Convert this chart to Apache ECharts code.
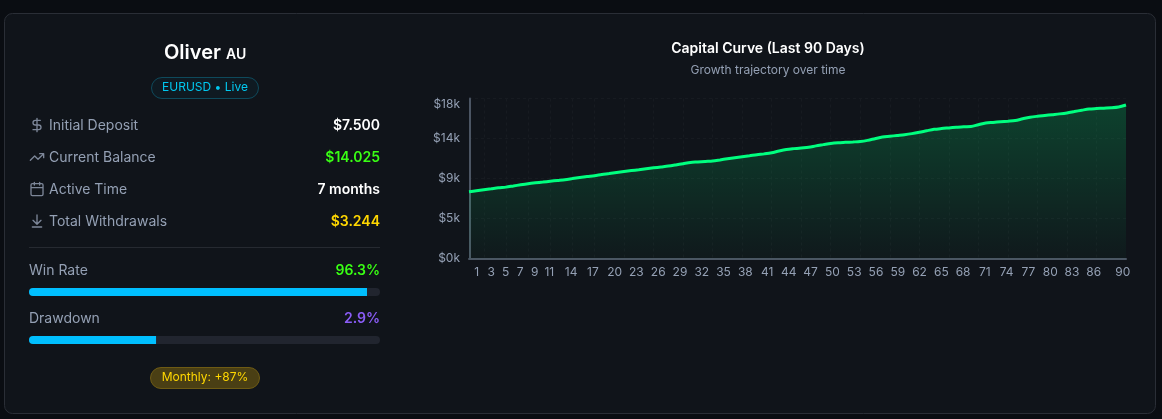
<!DOCTYPE html>
<html>
<head>
<meta charset="utf-8">
<title>Oliver</title>
<style>
  html, body { margin: 0; padding: 0; background: #0a0d12; }
  #main { width: 1162px; height: 419px; }
</style>
<script src="https://cdn.jsdelivr.net/npm/echarts@6/dist/echarts.min.js"></script>
</head>
<body>
<div id="main"></div>
<script>
// capital curve
const days = [];
for (let d = 1; d <= 90; d++) days.push(d);
const capital = [
  7500, 7620, 7740, 7850, 7960, 8030, 8160, 8290, 8410, 8510,
  8600, 8690, 8780, 8870, 8990, 9110, 9220, 9320, 9450, 9560,
  9680, 9790, 9890, 9990, 10100, 10200, 10300, 10400, 10530, 10670,
  10810, 10860, 10920, 10970, 11090, 11220, 11340, 11450, 11560, 11680,
  11770, 11890, 12090, 12260, 12360, 12440, 12510, 12670, 12810, 12950,
  13030, 13070, 13110, 13160, 13290, 13480, 13660, 13750, 13840, 13930,
  14050, 14200, 14370, 14530, 14620, 14690, 14760, 14820, 14840, 15050,
  15240, 15310, 15380, 15450, 15530, 15720, 15890, 16000, 16090, 16180,
  16270, 16380, 16530, 16680, 16820, 16870, 16910, 16950, 17040, 17269
];
const dayLabels = [1, 3, 5, 7, 9, 11, 14, 17, 20, 23, 26, 29, 32, 35, 38, 41, 44, 47, 50, 53, 56, 59, 62, 65, 68, 71, 74, 77, 80, 83, 86, 90];
const gridDays = [3, 6, 9, 12, 15, 18, 22, 26, 30, 34, 38, 42, 46, 50, 54, 58, 62, 66, 70, 74, 78, 82, 86];

const stats = [
  { label: 'Initial Deposit', value: '$7.500', color: '#ffffff', icon: 'M12 2v20M17 5H9.5a3.5 3.5 0 0 0 0 7h5a3.5 3.5 0 0 1 0 7H6' },
  { label: 'Current Balance', value: '$14.025', color: '#39ff14', icon: 'M22 7L13.5 15.5L8.5 10.5L2 17M16 7h6v6' },
  { label: 'Active Time', value: '7 months', color: '#ffffff', icon: 'M8 2v4M16 2v4M5 4h14a2 2 0 0 1 2 2v14a2 2 0 0 1-2 2H5a2 2 0 0 1-2-2V6a2 2 0 0 1 2-2zM3 10h18' },
  { label: 'Total Withdrawals', value: '$3.244', color: '#ffd700', icon: 'M12 17V3M6 11l6 6l6-6M19 21H5' }
];
const winRateBar = [96.3];
const drawdownBar = [36.2];

const FONT = 'Inter, "Noto Sans", sans-serif';
const MUTED = '#94a0b4';

function text(x, y, str, size, color, weight, align) {
  return {
    type: 'text', x: x, y: y, z: 100,
    style: { text: str, fontFamily: FONT, fontSize: size, fill: color, fontWeight: weight || 400, align: align || 'left', verticalAlign: 'middle' }
  };
}

const elements = [
  { type: 'rect', z: -10, shape: { x: 4.5, y: 13.5, width: 1151, height: 400, r: 8 }, style: { fill: '#10141a', stroke: '#2a2e36', lineWidth: 1 } },
  text(164, 53, 'Oliver', 20, '#ffffff', 600),
  text(226, 55, 'AU', 14, '#ffffff', 600),
  { type: 'rect', z: 100, shape: { x: 151.5, y: 77.5, width: 107, height: 21, r: 10.5 }, style: { fill: 'rgba(0,191,255,0.04)', stroke: '#0e4a5c', lineWidth: 1 } },
  text(205, 87.5, 'EURUSD • Live', 12, '#00c8f0', 400, 'center'),
  { type: 'line', z: 100, shape: { x1: 29, y1: 247.5, x2: 380, y2: 247.5 }, style: { stroke: '#262a31', lineWidth: 1 } },
  text(29, 271, 'Win Rate', 14, MUTED),
  text(380, 271, '96.3%', 14, '#39ff14', 600, 'right'),
  text(29, 319, 'Drawdown', 14, MUTED),
  text(380, 319, '2.9%', 14, '#8a5cf6', 600, 'right'),
  { type: 'rect', z: 100, shape: { x: 150.5, y: 367.5, width: 109, height: 21, r: 10.5 }, style: { fill: '#4a3f14', stroke: '#6e5b14', lineWidth: 1 } },
  text(205, 377.5, 'Monthly: +87%', 12, '#ffd700', 400, 'center'),
  text(768, 49, 'Capital Curve (Last 90 Days)', 14, '#ffffff', 600, 'center'),
  text(768, 70.5, 'Growth trajectory over time', 12, MUTED, 400, 'center')
];

stats.forEach(function (row, i) {
  const y = 125 + i * 32;
  // svg icons have to be registered as shapes to be used in graphic
  const shapeName = 'statIcon' + i;
  echarts.graphic.registerShape(shapeName, echarts.graphic.extendPath(row.icon));
  elements.push({
    type: shapeName, z: 100, x: 29, y: y - 8, scaleX: 0.667, scaleY: 0.667,
    shape: {},
    style: { fill: 'none', stroke: '#7d8799', lineWidth: 2, lineCap: 'round', lineJoin: 'round' }
  });
  elements.push(text(49, y + 1, row.label, 14, MUTED));
  elements.push(text(380, y + 1, row.value, 14, row.color, 600, 'right'));
});

function barGrid(top) {
  return { left: 29, width: 351, top: top, height: 8 };
}

function barSeries(index, values) {
  return {
    type: 'bar', xAxisIndex: index + 2, yAxisIndex: index + 1, data: values, barWidth: 8, silent: true,
    itemStyle: { color: '#00bfff', borderRadius: [4, 0, 0, 4] },
    showBackground: true,
    backgroundStyle: { color: '#21252f', borderRadius: 4 }
  };
}

function hiddenValueAxis(gridIndex) {
  return { type: 'value', gridIndex: gridIndex, min: 0, max: 100, show: false };
}

function hiddenCategoryAxis(gridIndex) {
  return { type: 'category', gridIndex: gridIndex, data: [''], show: false };
}

const myChart = echarts.init(document.getElementById('main'), null, { renderer: 'canvas' });
myChart.setOption({
  animation: false,
  backgroundColor: '#0a0d12',
  textStyle: { fontFamily: FONT },
  graphic: { elements: elements },
  grid: [
    { left: 469, right: 36, top: 98.5, height: 160 },
    barGrid(288),
    barGrid(336)
  ],
  xAxis: [
    {
      type: 'category', data: days, boundaryGap: false,
      axisLine: { lineStyle: { color: '#4b5563', width: 2 } },
      axisTick: { show: false },
      axisLabel: { show: false },
      splitLine: {
        show: true,
        interval: function (index) { return gridDays.indexOf(index + 1) >= 0; },
        lineStyle: { color: '#171b21', type: [3, 3] }
      }
    },
    // labels sit on their own scale, they drift slightly from the data ticks
    {
      type: 'value', min: -0.06, max: 90.44, position: 'bottom',
      axisLine: { show: false },
      axisTick: { show: false },
      splitLine: { show: false },
      axisLabel: { customValues: dayLabels, color: MUTED, fontSize: 12, margin: 8, fontFamily: FONT, hideOverlap: false, showMinLabel: true, showMaxLabel: true }
    },
    hiddenValueAxis(1),
    hiddenValueAxis(2)
  ],
  yAxis: [
    {
      type: 'value', min: 0, max: 18000, interval: 4500,
      axisLine: { show: true, lineStyle: { color: '#4b5563', width: 2 } },
      axisTick: { show: false },
      axisLabel: {
        color: MUTED, fontSize: 12, margin: 9, fontFamily: FONT,
        verticalAlignMaxLabel: 'top',
        formatter: function (v) { return '$' + (v / 1000).toFixed(0) + 'k'; }
      },
      splitLine: { show: true, lineStyle: { color: '#171b21', type: [3, 3] } }
    },
    hiddenCategoryAxis(1),
    hiddenCategoryAxis(2)
  ],
  series: [
    {
      type: 'line', data: capital, showSymbol: false, smooth: 0.3,
      lineStyle: { color: '#00ff7f', width: 3 },
      areaStyle: {
        color: new echarts.graphic.LinearGradient(0, 0, 0, 1, [
          { offset: 0, color: 'rgba(0,255,127,0.28)' },
          { offset: 1, color: 'rgba(0,255,127,0.03)' }
        ])
      }
    },
    barSeries(0, winRateBar),
    barSeries(1, drawdownBar)
  ]
});
</script>
</body>
</html>
